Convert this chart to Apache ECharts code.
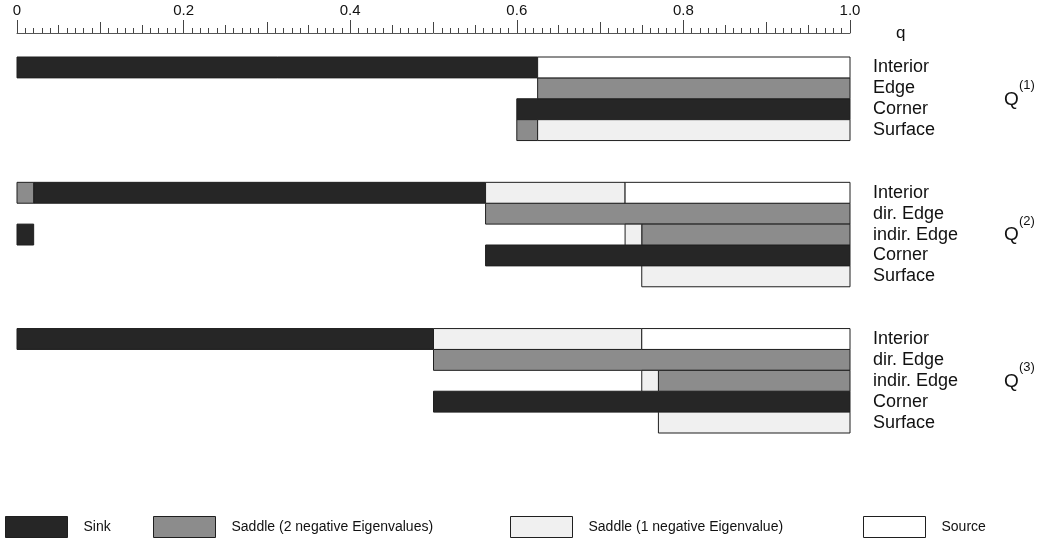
<!DOCTYPE html>
<html>
<head>
<meta charset="utf-8">
<script src="https://cdn.jsdelivr.net/npm/echarts@6/dist/echarts.min.js"></script>
<style>
  html, body { margin: 0; padding: 0; background: #fff; }
  #chart { width: 1055px; height: 544px; }
</style>
</head>
<body>
<div id="chart"></div>
<script>
// Row labels, top to bottom; empty strings are the gaps between the three blocks
const rowLabels = ['Interior', 'Edge', 'Corner', 'Surface', '', '',
  'Interior', 'dir. Edge', 'indir. Edge', 'Corner', 'Surface', '', '',
  'Interior', 'dir. Edge', 'indir. Edge', 'Corner', 'Surface'];

// Segments per critical-point type: [q start, q end, row index]
const sinkSegments = [[0, 0.625, 0], [0.6, 1, 2], [0.02, 0.5625, 6], [0, 0.02, 8],
  [0.5625, 1, 9], [0, 0.5, 13], [0.5, 1, 16]];
const saddle2Segments = [[0.625, 1, 1], [0.6, 0.625, 3], [0, 0.02, 6], [0.5625, 1, 7],
  [0.75, 1, 8], [0.5, 1, 14], [0.77, 1, 15]];
const saddle1Segments = [[0.625, 1, 3], [0.5625, 0.73, 6], [0.73, 0.75, 8], [0.75, 1, 10],
  [0.5, 0.75, 13], [0.75, 0.77, 15], [0.77, 1, 17]];
const sourceSegments = [[0.625, 1, 0], [0.73, 1, 6], [0.75, 1, 13]];

// Block annotations: superscript index and the row its Q sits on
const blockNames = ['(1)', '(2)', '(3)'];
const blockRows = [1.5, 8, 15];

const tickLabels = ['0', '0.2', '0.4', '0.6', '0.8', '1.0'];

const types = [
  { name: 'Sink', color: '#262626', data: sinkSegments, legendLeft: 5 },
  { name: 'Saddle (2 negative Eigenvalues)', color: '#8c8c8c', data: saddle2Segments, legendLeft: 153 },
  { name: 'Saddle (1 negative Eigenvalue)', color: '#f0f0f0', data: saddle1Segments, legendLeft: 510 },
  { name: 'Source', color: '#ffffff', data: sourceSegments, legendLeft: 863 }
];

const FONT = "'Liberation Sans', Arial, Helvetica, sans-serif";
const EDGE = '#1f1f1f';

function makeRender(color) {
  return function (params, api) {
    const row = api.value(2);
    const p0 = api.coord([api.value(0), row]);
    const p1 = api.coord([api.value(1), row]);
    const h = api.size([0, 1])[1];
    return {
      type: 'rect',
      shape: { x: p0[0], y: p0[1] - h / 2, width: p1[0] - p0[0], height: h },
      style: { fill: color, stroke: EDGE, lineWidth: 1 }
    };
  };
}

// Several overlaid top axes give the ruler its graded tick lengths
function tickAxis(interval, length, withLabels, withLine) {
  return {
    type: 'value', gridIndex: 0, position: 'top', offset: 24,
    min: 0, max: 1, interval: interval,
    axisLine: { show: withLine, lineStyle: { color: '#555', width: 1 } },
    axisTick: { show: true, length: length, lineStyle: { color: '#444', width: 1 } },
    axisLabel: withLabels ? {
      show: true, margin: 15, color: '#111', fontSize: 15, fontFamily: FONT,
      formatter: function (v) { return tickLabels[Math.round(v / 0.2)]; }
    } : { show: false },
    splitLine: { show: false },
    name: withLine ? 'q' : '',
    nameLocation: 'end', nameGap: 46,
    nameTextStyle: { color: '#111', fontSize: 17, fontFamily: FONT, verticalAlign: 'middle' }
  };
}

const chart = echarts.init(document.getElementById('chart'), null, { renderer: 'canvas' });

chart.setOption({
  animation: false,
  backgroundColor: '#fff',
  grid: { left: 17, right: 205, top: 57, bottom: 111, containLabel: false },
  xAxis: [
    tickAxis(0.2, 13, true, true),
    tickAxis(0.1, 11, false, false),
    tickAxis(0.05, 8, false, false),
    tickAxis(0.01, 5, false, false)
  ],
  yAxis: {
    type: 'category', inverse: true, position: 'right',
    data: rowLabels.map(function (_, i) { return String(i); }),
    axisLine: { show: false }, axisTick: { show: false }, splitLine: { show: false },
    axisLabel: {
      interval: 0, margin: 23, color: '#111', fontSize: 18, fontFamily: FONT,
      formatter: function (v, i) { return rowLabels[i]; }
    }
  },
  legend: types.map(function (t) {
    return {
      data: [{ name: t.name, icon: 'rect', itemStyle: { color: t.color, borderColor: EDGE, borderWidth: 1 } }],
      left: t.legendLeft, top: 516, padding: 0,
      itemWidth: 62, itemHeight: 21, selectedMode: false,
      textStyle: { color: '#111', fontSize: 14, fontFamily: FONT, padding: [0, 0, 0, 11] }
    };
  }),
  series: types.map(function (t) {
    return {
      type: 'custom', name: t.name,
      xAxisIndex: 0, yAxisIndex: 0,
      renderItem: makeRender(t.color),
      itemStyle: { color: t.color, borderColor: EDGE, borderWidth: 1 },
      encode: { x: [0, 1], y: 2 },
      data: t.data
    };
  })
});

// Q^(k) block annotations, placed on the block's middle row
const graphics = [];
blockRows.forEach(function (r, k) {
  const lo = Math.floor(r), hi = Math.ceil(r);
  const yLo = chart.convertToPixel({ yAxisIndex: 0 }, lo);
  const yHi = chart.convertToPixel({ yAxisIndex: 0 }, hi);
  const y = yLo + (yHi - yLo) * (r - lo);
  graphics.push({
    type: 'text', left: 1004, top: y - 9,
    style: { text: 'Q', fill: '#111', font: '19px ' + FONT }
  });
  graphics.push({
    type: 'text', left: 1019, top: y - 20,
    style: { text: blockNames[k], fill: '#111', font: '13px ' + FONT }
  });
});
chart.setOption({ graphic: graphics });
</script>
</body>
</html>
